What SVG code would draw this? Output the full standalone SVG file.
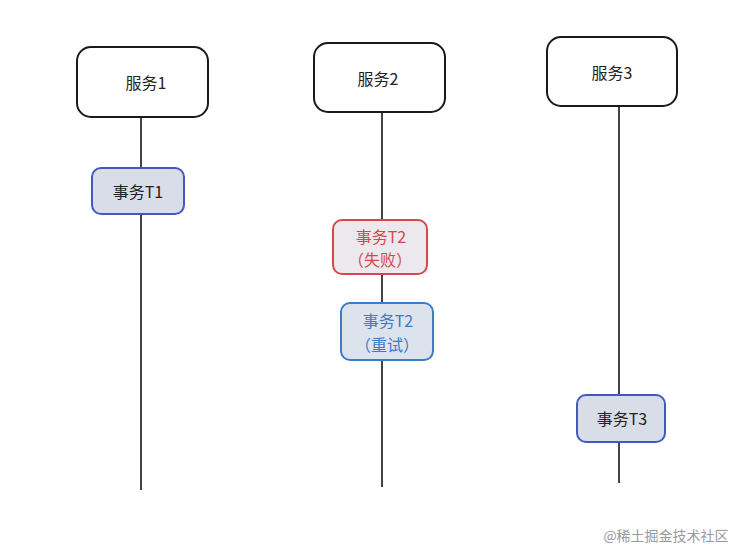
<svg xmlns="http://www.w3.org/2000/svg" width="752" height="560" viewBox="0 0 752 560">
<style>
.svc{fill:#fff;stroke:#1a1a1a;stroke-width:2}
.life{stroke:#444;stroke-width:2;fill:none}
.tx{fill:#d9dde7;stroke:#4459c0;stroke-width:2}
.fail{fill:#ebe9ee;stroke:#d6474a;stroke-width:2}
.retry{fill:#dde3ec;stroke:#3a7cc6;stroke-width:2}
text{font-family:"Noto Sans CJK SC","Noto Sans",sans-serif;font-size:16px;text-anchor:middle;dominant-baseline:central}
.dark{fill:#222}
.red{fill:#d6474a}
.blue{fill:#3a7cc6}
.wm{fill:#9a9a9a;font-size:14px}
</style>
<rect width="752" height="560" fill="#fff"/>
<g id="connectors">
<line class="life" x1="141" y1="117" x2="141" y2="490"/>
<line class="life" x1="382" y1="112" x2="382" y2="487"/>
<line class="life" x1="619" y1="106" x2="619" y2="483"/>
</g>
<g id="svc1"><rect class="svc" x="77" y="47" width="131" height="70" rx="14"/><text class="dark" x="146" y="82">服务1</text></g>
<g id="svc2"><rect class="svc" x="314" y="43" width="131" height="69" rx="14"/><text class="dark" x="378" y="78">服务2</text></g>
<g id="svc3"><rect class="svc" x="547" y="37" width="130" height="69" rx="14"/><text class="dark" x="612" y="72">服务3</text></g>
<g id="t1"><rect class="tx" x="92" y="168" width="92" height="46" rx="9"/><text class="dark" x="138" y="191">事务T1</text></g>
<g id="t2fail"><rect class="fail" x="333" y="220" width="94" height="54" rx="9"/><text class="red" x="381" y="236">事务T2</text><text class="red" x="380" y="259">（失败）</text></g>
<g id="t2retry"><rect class="retry" x="341" y="303" width="92" height="57" rx="9"/><text class="blue" x="388" y="320">事务T2</text><text class="blue" x="387" y="344">（重试）</text></g>
<g id="t3"><rect class="tx" x="577" y="395" width="88" height="47" rx="9"/><text class="dark" x="622" y="418">事务T3</text></g>
<text class="wm" x="666" y="535">@稀土掘金技术社区</text>
</svg>
